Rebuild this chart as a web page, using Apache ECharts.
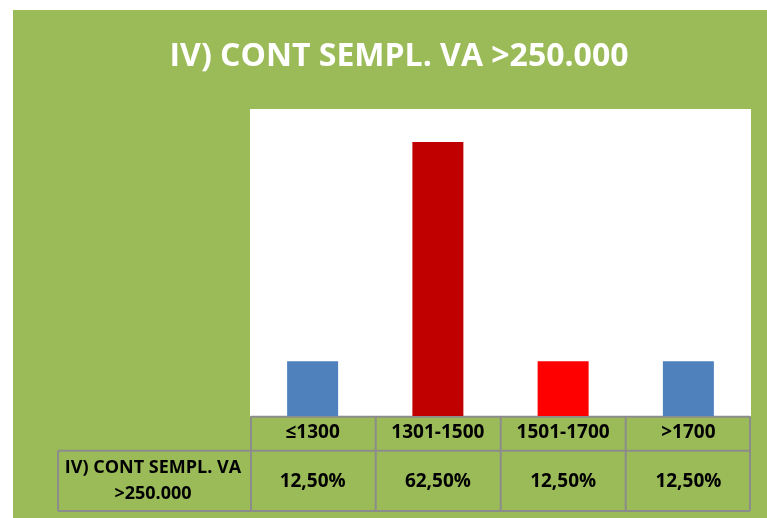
<!DOCTYPE html>
<html>
<head>
<meta charset="utf-8">
<script src="https://cdn.jsdelivr.net/npm/echarts@6/dist/echarts.min.js"></script>
<style>
html,body{margin:0;padding:0;background:#fff;}
#chart{position:absolute;left:13px;top:10px;width:754px;height:508px;background:#9BBB59;}
</style>
</head>
<body>
<div id="chart"></div>
<script>
// data
const titleText = 'IV) CONT SEMPL. VA >250.000'
const categories = ['≤1300', '1301-1500', '1501-1700', '>1700']
const values = [12.5, 62.5, 12.5, 12.5]
const rowLabel = 'IV) CONT SEMPL. VA\n>250.000'

// styles
const barColors = ['#4F81BD', '#C00000', '#FF0000', '#4F81BD']
const lineColor = '#8C8C8C'
const font = 'Open Sans'

const valueLabels = values.map(v => v.toFixed(2).replace('.', ',') + '%')

// table lines (container coords)
const tx = [238, 362.7, 487.7, 612.7, 737]
const ty = [406.7, 440.7, 501]
let lines = []
ty.forEach(y => lines.push({type:'line', shape:{x1:tx[0], y1:y, x2:tx[4], y2:y}, style:{stroke:lineColor, lineWidth:2}}))
tx.forEach(x => lines.push({type:'line', shape:{x1:x, y1:ty[0], x2:x, y2:ty[2]}, style:{stroke:lineColor, lineWidth:2}}))
lines.push({type:'line', shape:{x1:45, y1:ty[1], x2:tx[0], y2:ty[1]}, style:{stroke:lineColor, lineWidth:2}})
lines.push({type:'line', shape:{x1:45, y1:ty[2], x2:tx[0], y2:ty[2]}, style:{stroke:lineColor, lineWidth:2}})
lines.push({type:'line', shape:{x1:45, y1:ty[1], x2:45, y2:ty[2]}, style:{stroke:lineColor, lineWidth:2}})

const chart = echarts.init(document.getElementById('chart'))
chart.setOption({
  animation: false,
  title: {
    text: titleText,
    left: 381,
    top: 26,
    textAlign: 'center',
    textStyle: {color:'#fff', fontFamily:font, fontWeight:'bold', fontSize:32}
  },
  grid: {
    left: 237, right: 16, top: 99, bottom: 102,
    show: true, backgroundColor: '#fff', borderWidth: 0
  },
  xAxis: [
    {
      type: 'category',
      data: categories,
      axisLine: {show:false},
      axisTick: {show:false},
      axisLabel: {margin:17, verticalAlign:'middle', color:'#000', fontFamily:font, fontWeight:'bold', fontSize:19}
    },
    {
      type: 'category',
      position: 'bottom',
      data: valueLabels,
      axisLine: {show:false},
      axisTick: {show:false},
      axisLabel: {margin:66, verticalAlign:'middle', color:'#000', fontFamily:font, fontWeight:'bold', fontSize:19}
    }
  ],
  yAxis: {
    type: 'value', min: 0, max: 70, show: false
  },
  series: [{
    type: 'bar',
    barWidth: 51,
    data: values.map((v, i) => ({value: v, itemStyle: {color: barColors[i]}}))
  }],
  graphic: lines.concat([{
    type: 'text',
    x: 140, y: 471,
    style: {
      text: rowLabel,
      align: 'center', verticalAlign: 'middle',
      lineHeight: 26,
      fill: '#000', font: 'bold 18px "Open Sans"'
    }
  }])
})
</script>
</body>
</html>
